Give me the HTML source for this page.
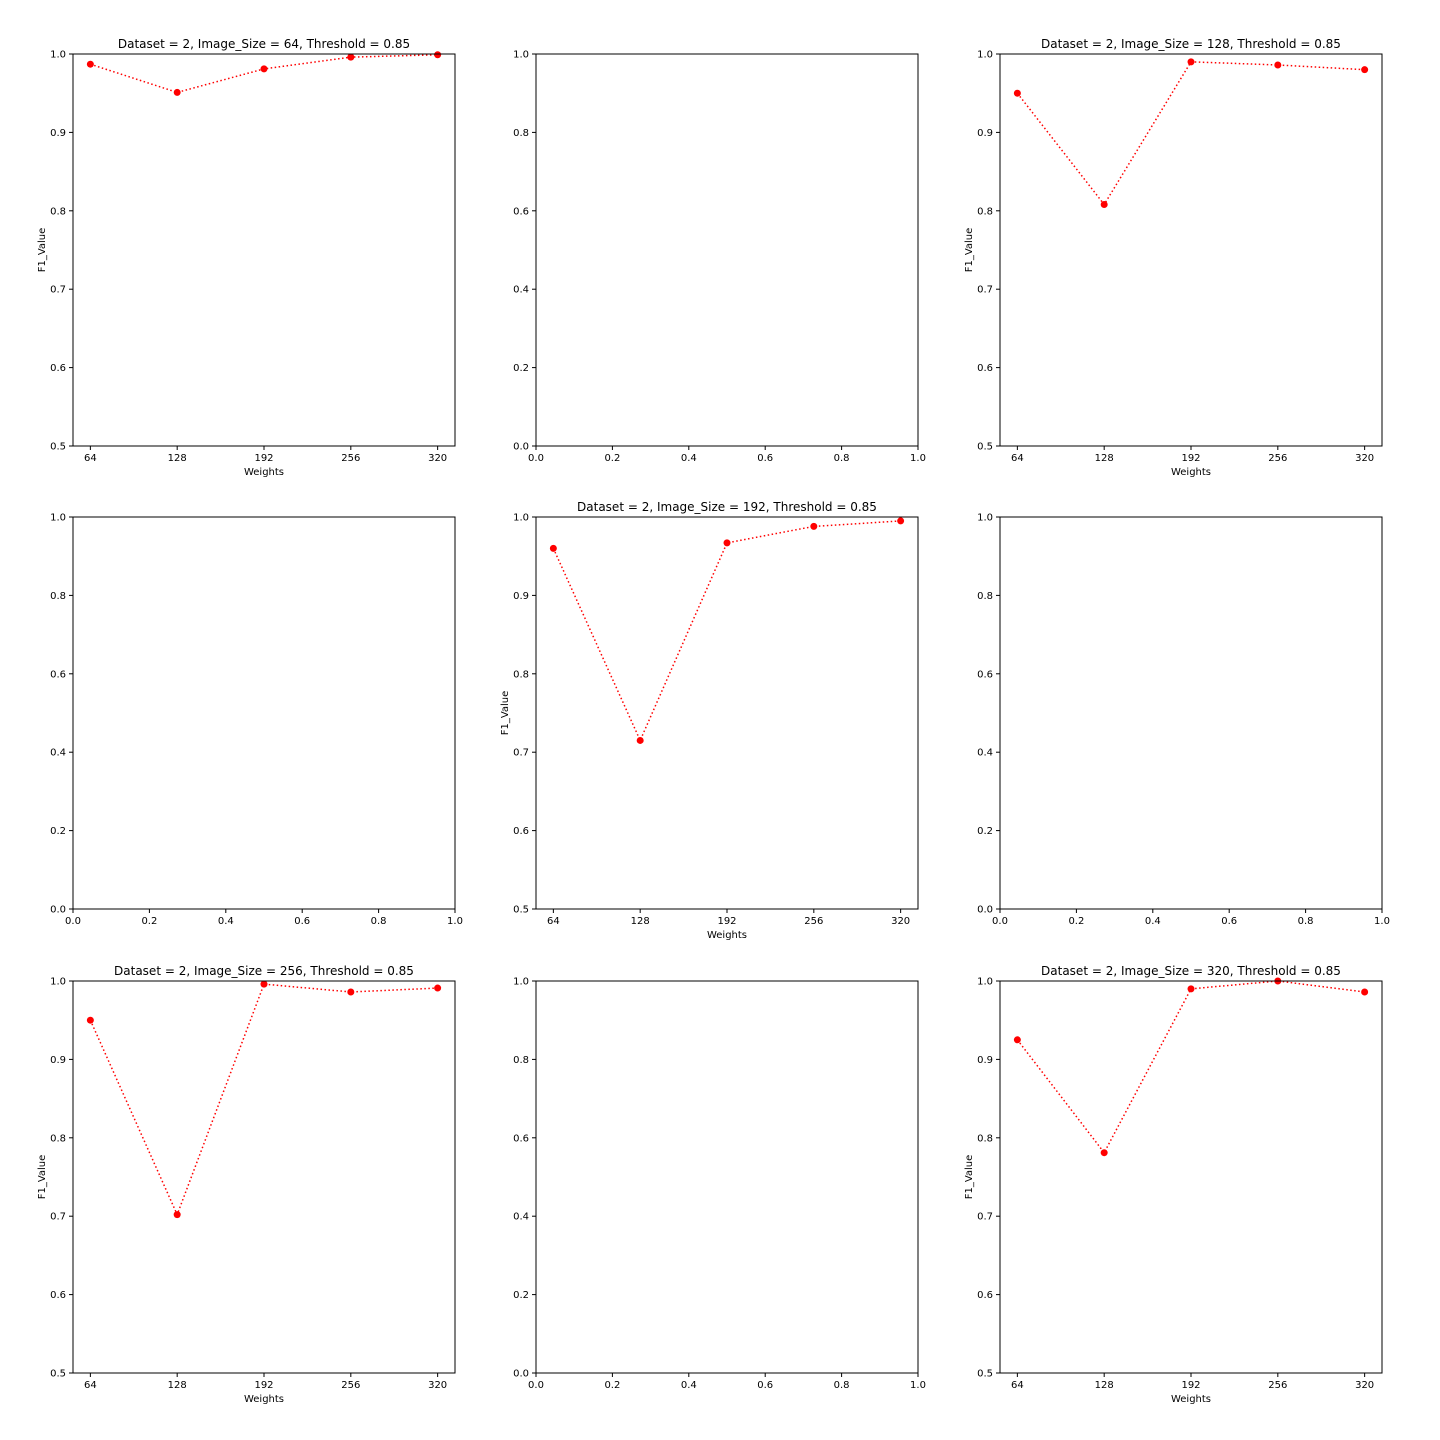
<!DOCTYPE html>
<html><head><meta charset="utf-8"><style>
body{margin:0;background:#fff}
svg{display:block;font-family:"DejaVu Sans","Liberation Sans",sans-serif}
</style></head><body>
<svg id="fig" width="1440" height="1440" xmlns="http://www.w3.org/2000/svg"></svg>
<script>
const weights = [64,128,192,256,320];
const sizes = [64,128,192,256,320];
const f1_64  = [0.987,0.951,0.981,0.996,0.999];
const f1_128 = [0.950,0.808,0.990,0.986,0.980];
const f1_192 = [0.960,0.715,0.967,0.988,0.995];
const f1_256 = [0.950,0.702,0.996,0.986,0.991];
const f1_320 = [0.925,0.781,0.990,1.000,0.986];
const yTicksData = ["0.5","0.6","0.7","0.8","0.9","1.0"];
const emptyTicks = ["0.0","0.2","0.4","0.6","0.8","1.0"];

const NS="http://www.w3.org/2000/svg";
const svg=document.getElementById('fig');
function mk(tag,attrs,parent,text){const e=document.createElementNS(NS,tag);for(const k in attrs)e.setAttribute(k,attrs[k]);if(text!==undefined)e.textContent=text;(parent||svg).appendChild(e);return e;}

const colX=[73,536,1000], rowY=[54,517,981], W=382, H=392;
const panels=[
 {r:0,c:0,data:f1_64,size:sizes[0]},{r:0,c:1},{r:0,c:2,data:f1_128,size:sizes[1]},
 {r:1,c:0},{r:1,c:1,data:f1_192,size:sizes[2]},{r:1,c:2},
 {r:2,c:0,data:f1_256,size:sizes[3]},{r:2,c:1},{r:2,c:2,data:f1_320,size:sizes[4]}];

panels.forEach((p,i)=>{
  const x0=colX[p.c], y0=rowY[p.r];
  const g=mk('g',{});
  
  
  if(p.data){
    const xmin=64-12.8, xmax=320+12.8;
    const sx=v=>x0+(v-xmin)/(xmax-xmin)*W;
    const sy=v=>y0+H-(v-0.5)/0.5*H;
    const t=mk('text',{x:x0+W/2,y:y0-6,'text-anchor':'middle','font-size':12},g,'Dataset = 2, Image_Size = '+p.size+', Threshold = 0.85');
    
    weights.forEach(w=>{const X=sx(w);mk('line',{x1:X,x2:X,y1:y0+H,y2:y0+H+4,stroke:'#000'},g);
      mk('text',{x:X,y:y0+H+15,'text-anchor':'middle','font-size':10},g,String(w));});
    yTicksData.forEach(s=>{const Y=sy(parseFloat(s));mk('line',{x1:x0-4,x2:x0,y1:Y,y2:Y,stroke:'#000'},g);
      mk('text',{x:x0-7,y:Y+3.5,'text-anchor':'end','font-size':10},g,s);});
    const xl=mk('text',{x:x0+W/2,y:y0+H+29,'text-anchor':'middle','font-size':10},g,'Weights');
    
    const yl=mk('text',{x:0,y:0,'text-anchor':'middle','font-size':10,transform:`translate(${x0-28},${y0+H/2}) rotate(-90)`},g,'F1_Value');
    
    const pts=p.data.map((v,j)=>sx(weights[j])+','+sy(v)).join(' ');
    const ln=mk('polyline',{points:pts,fill:'none',stroke:'#ff0000','stroke-width':1.5,'stroke-dasharray':'1.5,2.5'},g);
    
    p.data.forEach((v,j)=>{const c=mk('circle',{cx:sx(weights[j]),cy:sy(v),r:3.5,fill:'#ff0000'},g);
      });
  } else {
    emptyTicks.forEach(s=>{const v=parseFloat(s);const X=x0+v*W, Y=y0+H-v*H;
      mk('line',{x1:X,x2:X,y1:y0+H,y2:y0+H+4,stroke:'#000'},g);
      mk('text',{x:X,y:y0+H+15,'text-anchor':'middle','font-size':10},g,s);
      mk('line',{x1:x0-4,x2:x0,y1:Y,y2:Y,stroke:'#000'},g);
      mk('text',{x:x0-7,y:Y+3.5,'text-anchor':'end','font-size':10},g,s);});
  }
  mk('rect',{x:x0,y:y0,width:W,height:H,fill:'none',stroke:'#000','stroke-width':1},g);
});
</script>
</body></html>
